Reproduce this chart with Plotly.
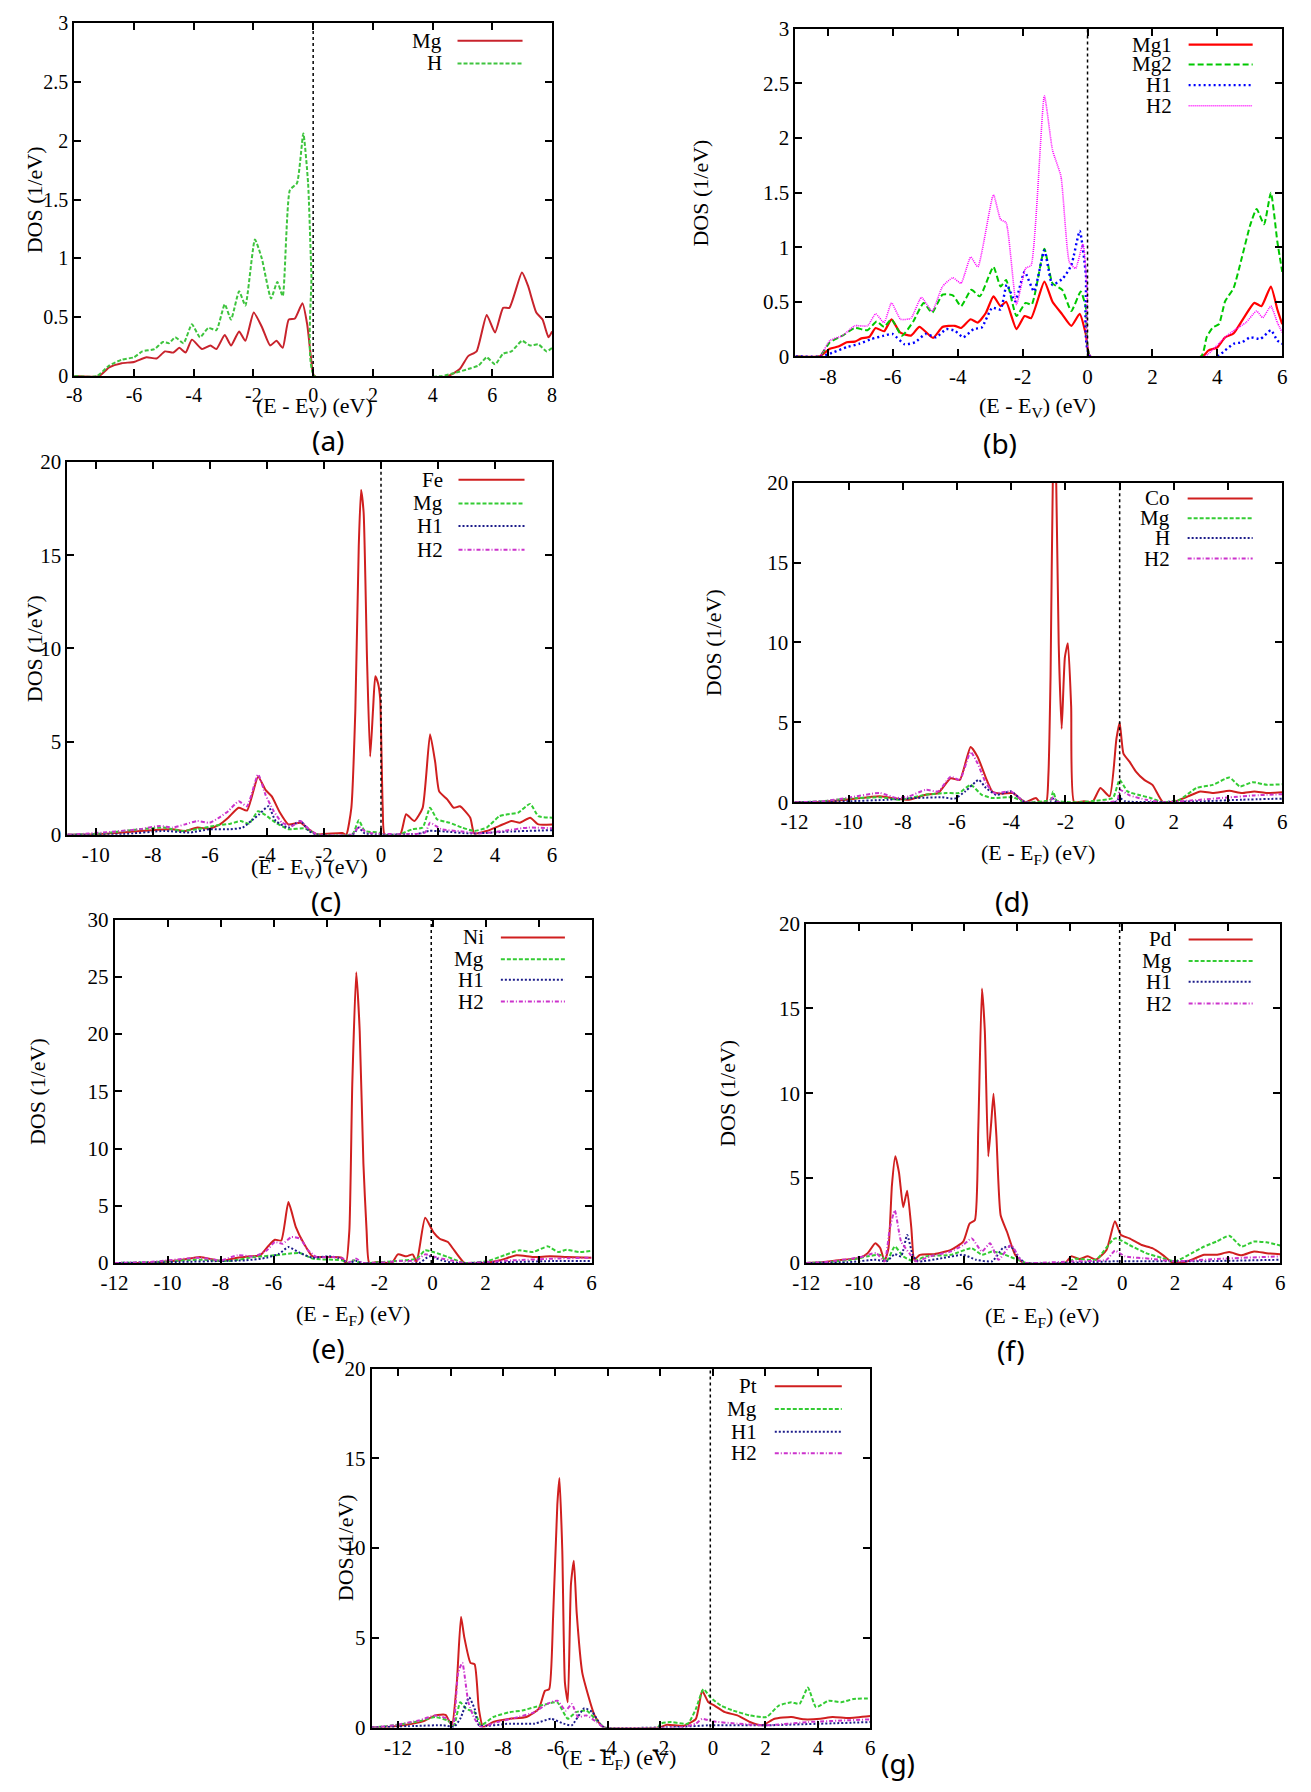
import plotly.graph_objects as go

W, H = 1311, 1792
OFF = 8  # the page body keeps its default 8px margin, so the figure is placed inside it
FW, FH = W - 2 * OFF, H - 2 * OFF

# ---------------- data (energy in eV, DOS in 1/eV) ----------------
# (a) MgH2
a_mg_x = [-8, -7.17, -6.83, -6.41, -6.0, -5.58, -5.24, -4.96, -4.68, -4.48, -4.27, -4.06, -3.72, -3.44, -3.24,
          -2.96, -2.75, -2.48, -2.27, -1.99, -1.72, -1.44, -1.23, -1.02, -0.82, -0.61, -0.36, -0.2, -0.06, 0.04,
          4.5, 4.91, 5.19, 5.47, 5.81, 6.09, 6.36, 6.57, 6.99, 7.19, 7.47, 7.68, 7.88, 8.0]
a_mg_y = [0, 0, 0.075, 0.11, 0.12, 0.16, 0.15, 0.21, 0.2, 0.24, 0.2, 0.31, 0.23, 0.26, 0.23,
          0.35, 0.26, 0.38, 0.30, 0.54, 0.42, 0.26, 0.30, 0.24, 0.48, 0.49, 0.62, 0.44, 0.13, 0,
          0, 0.06, 0.17, 0.21, 0.52, 0.37, 0.58, 0.58, 0.88, 0.77, 0.54, 0.48, 0.33, 0.38]
a_h_x = [-8, -7.24, -6.83, -6.41, -6.0, -5.72, -5.31, -5.03, -4.82, -4.62, -4.34, -4.06, -3.79, -3.51, -3.24,
         -2.96, -2.75, -2.48, -2.27, -1.95, -1.72, -1.41, -1.2, -1.02, -0.78, -0.54, -0.33, -0.17, -0.06, 0.05,
         4.29, 4.78, 5.19, 5.54, 5.81, 6.09, 6.36, 6.64, 6.99, 7.26, 7.54, 7.82, 8.0]
a_h_y = [0, 0, 0.09, 0.14, 0.16, 0.21, 0.23, 0.29, 0.28, 0.33, 0.28, 0.44, 0.33, 0.41, 0.39,
         0.61, 0.48, 0.72, 0.6, 1.16, 1.0, 0.66, 0.80, 0.68, 1.58, 1.64, 2.06, 1.64, 0.86, 0,
         0, 0.03, 0.06, 0.09, 0.16, 0.10, 0.19, 0.21, 0.30, 0.26, 0.27, 0.21, 0.24]

# (b) Mg1 / Mg2 / H1 / H2
b_mg1_x = [-9, -8.26, -7.94, -7.68, -7.42, -7.17, -6.97, -6.72, -6.53, -6.27, -6.04, -5.78, -5.44, -5.18, -4.76,
           -4.47, -4.09, -3.90, -3.6, -3.38, -3.13, -2.9, -2.68, -2.51, -2.19, -1.94, -1.74, -1.33, -1.08, -0.78,
           -0.5, -0.24, -0.05, 0.08, 3.54, 3.73, 3.99, 4.24, 4.5, 4.82, 5.14, 5.36, 5.65, 5.85, 6.0]
b_mg1_y = [0, 0, 0.07, 0.09, 0.13, 0.135, 0.165, 0.18, 0.26, 0.23, 0.34, 0.22, 0.19, 0.27, 0.17,
           0.27, 0.28, 0.26, 0.34, 0.31, 0.40, 0.55, 0.46, 0.50, 0.25, 0.37, 0.35, 0.685, 0.50, 0.385,
           0.28, 0.39, 0.20, 0, 0, 0.055, 0.08, 0.175, 0.21, 0.355, 0.49, 0.46, 0.64, 0.43, 0.295]
b_mg2_x = [-9, -8.26, -7.94, -7.55, -7.17, -6.78, -6.5, -6.27, -6.04, -5.72, -5.37, -5.05, -4.79, -4.47, -4.15,
           -3.9, -3.58, -3.32, -2.9, -2.68, -2.51, -2.19, -1.91, -1.72, -1.33, -1.08, -0.78, -0.5, -0.21, -0.05,
           0.09, 3.5, 3.67, 3.86, 4.05, 4.24, 4.5, 4.76, 5.01, 5.21, 5.44, 5.65, 5.85, 6.0]
b_mg2_y = [0, 0, 0.13, 0.19, 0.26, 0.24, 0.32, 0.27, 0.34, 0.19, 0.32, 0.49, 0.40, 0.565, 0.56,
           0.46, 0.61, 0.55, 0.82, 0.64, 0.70, 0.37, 0.49, 0.475, 0.985, 0.67, 0.61, 0.415, 0.595, 0.445,
           0, 0, 0.175, 0.265, 0.295, 0.505, 0.625, 0.91, 1.2, 1.35, 1.21, 1.5, 1.05, 0.775]
b_h1_x = [-9, -8.19, -7.81, -7.42, -7.04, -6.65, -6.27, -6.01, -5.63, -5.31, -4.99, -4.67, -4.35, -4.09, -3.83,
          -3.51, -3.26, -2.94, -2.68, -2.49, -2.23, -1.94, -1.65, -1.33, -1.08, -0.76, -0.5, -0.24, -0.05, 0.08,
          3.99, 4.24, 4.5, 4.76, 5.01, 5.33, 5.65, 5.85, 6.0]
b_h1_y = [0, 0, 0.04, 0.085, 0.115, 0.16, 0.19, 0.205, 0.11, 0.13, 0.205, 0.175, 0.25, 0.235, 0.175,
          0.25, 0.265, 0.445, 0.43, 0.655, 0.505, 0.775, 0.595, 0.97, 0.655, 0.715, 0.835, 1.15, 0.745, 0,
          0, 0.055, 0.115, 0.13, 0.175, 0.16, 0.24, 0.145, 0.115]
b_h2_x = [-9, -8.26, -7.94, -7.55, -7.17, -6.78, -6.53, -6.27, -6.04, -5.76, -5.44, -5.12, -4.79, -4.47, -4.15,
          -3.9, -3.6, -3.38, -2.9, -2.68, -2.51, -2.19, -1.91, -1.74, -1.33, -1.08, -0.82, -0.56, -0.37, -0.14,
          -0.01, 0.09, 3.6, 3.73, 3.99, 4.24, 4.5, 4.88, 5.21, 5.4, 5.65, 5.85, 6.0]
b_h2_y = [0, 0, 0.145, 0.19, 0.28, 0.28, 0.39, 0.31, 0.49, 0.34, 0.35, 0.54, 0.415, 0.64, 0.72,
          0.67, 0.91, 0.82, 1.48, 1.255, 1.225, 0.475, 0.805, 0.835, 2.385, 1.89, 1.65, 0.865, 0.805, 1.03,
          0.595, 0, 0, 0.025, 0.1, 0.175, 0.235, 0.31, 0.415, 0.355, 0.46, 0.31, 0.22]

# (c) Fe
c_fe_x = [-11, -9.93, -9.06, -8.04, -7.31, -6.88, -6.44, -6.01, -5.65, -5.36, -4.99, -4.7, -4.31, -4.05, -3.83,
          -3.54, -3.25, -2.82, -2.53, -2.24, -1.36, -1.22, -1.04, -0.9, -0.78, -0.7, -0.61, -0.49, -0.38, -0.28,
          -0.2, -0.1, -0.03, 0.06, 0.13, 0.67, 0.88, 1.17, 1.46, 1.72, 1.9, 2.04, 2.33, 2.55, 2.77,
          3.13, 3.27, 3.71, 4.15, 4.58, 4.87, 5.23, 5.52, 6.0]
c_fe_y = [0, 0.03, 0.12, 0.25, 0.3, 0.2, 0.39, 0.33, 0.56, 0.92, 1.45, 1.3, 3.12, 2.41, 2.06,
          1.18, 0.56, 0.65, 0.3, 0.03, 0.1, 0, 1.45, 6.7, 15.5, 18.5, 17.3, 9.4, 4.2, 6.7,
          8.5, 8.1, 7.3, 1.45, 0, 0, 1.1, 0.74, 1.45, 5.4, 3.9, 2.33, 1.89, 1.45, 1.53,
          0.92, 0.07, 0.21, 0.48, 0.74, 0.65, 0.92, 0.56, 0.56]
c_mg_x = [-11, -9.78, -8.48, -7.6, -7.02, -6.44, -5.86, -5.28, -4.92, -4.63, -4.31, -4.05, -3.69, -3.25, -2.67,
          -2.38, -2.16, -1.0, -0.78, -0.57, -0.06, 0.09, 0.67, 1.1, 1.46, 1.72, 1.97, 2.4, 2.84, 3.27,
          3.71, 4.15, 4.44, 4.8, 5.23, 5.52, 6.0]
c_mg_y = [0, 0.07, 0.3, 0.39, 0.21, 0.3, 0.48, 0.6, 0.74, 0.6, 1.27, 1.06, 0.65, 0.3, 0.35,
          0.12, 0, 0.04, 0.78, 0.21, 0.12, 0, 0.04, 0.3, 0.39, 1.45, 0.83, 0.65, 0.39, 0.21,
          0.39, 1.0, 1.1, 1.18, 1.66, 1.0, 0.92]
c_h1_x = [-11, -9.06, -7.6, -6.73, -6.01, -5.28, -4.85, -4.56, -4.27, -3.95, -3.69, -3.25, -2.82, -2.53, -2.24,
          -1.0, -0.78, -0.57, 1.3, 1.68, 2.26, 3.13, 4.58, 6.0]
c_h1_y = [0, 0.03, 0.21, 0.12, 0.3, 0.3, 0.39, 0.74, 1.1, 1.53, 0.74, 0.39, 0.74, 0.21, 0,
          0, 0.39, 0.07, 0.05, 0.21, 0.18, 0.07, 0.18, 0.25]
c_h2_x = [-11, -9.78, -8.48, -7.75, -7.31, -6.88, -6.44, -6.01, -5.65, -5.36, -4.99, -4.7, -4.31, -4.05, -3.76,
          -3.47, -3.11, -2.82, -2.53, -2.24, -1.0, -0.78, -0.49, 1.54, 1.72, 2.11, 2.84, 3.42, 4.29, 5.16, 6.0]
c_h2_y = [0, 0.12, 0.3, 0.48, 0.39, 0.56, 0.74, 0.65, 0.95, 1.27, 1.8, 1.53, 3.24, 2.15, 1.27,
          0.65, 0.48, 0.74, 0.3, 0.03, 0.03, 0.42, 0.12, 0.12, 0.65, 0.3, 0.18, 0.07, 0.21, 0.39, 0.35]

# (d) Co
d_co_x = [-12, -11.0, -10.08, -8.85, -8.24, -7.78, -7.16, -6.7, -6.24, -5.9, -5.5, -5.24, -4.93, -4.7, -4.32,
          -3.94, -3.63, -3.47, -3.09, -2.94, -2.71, -2.63, -2.55, -2.46, -2.4, -2.35, -2.25, -2.14, -2.02, -1.91,
          -1.79, -1.68, -1.32, -1.01, -0.71, -0.37, -0.12, 0.0, 0.14, 0.37, 0.6, 0.91, 1.21, 1.6, 2.06,
          2.52, 2.98, 3.44, 4.05, 4.51, 4.97, 5.43, 6.0]
d_co_y = [0, 0.02, 0.16, 0.37, 0.23, 0.16, 0.47, 0.58, 1.5, 1.4, 3.46, 2.84, 1.5, 0.68, 0.54,
          0.58, 0.16, 0, 0.27, 0, 0, 1.7, 7.9, 21.0, 23.0, 21.0, 9.95, 4.6, 9.1, 9.95,
          6.0, 0, 0.06, 0, 0.89, 0.37, 3.97, 5.0, 3.05, 2.53, 1.92, 1.4, 1.09, 0, 0.06,
          0.37, 0.68, 0.58, 0.72, 0.58, 0.68, 0.58, 0.62]
d_mg_x = [-12, -11.0, -10.08, -8.85, -8.09, -7.16, -6.39, -5.93, -5.5, -5.09, -4.7, -3.94, -3.47, -2.55, -2.46,
          -2.32, -1.63, -0.86, -0.25, 0.0, 0.29, 0.68, 1.14, 1.6, 2.22, 2.83, 3.44, 4.05, 4.44, 4.9, 5.43, 6.0]
d_mg_y = [0, 0.06, 0.23, 0.31, 0.16, 0.47, 0.58, 0.58, 1.09, 0.47, 0.27, 0.31, 0, 0.16, 0.68,
          0.1, 0, 0.1, 0.27, 1.4, 0.68, 0.47, 0.27, 0, 0.16, 0.89, 1.09, 1.55, 0.99, 1.26, 1.09, 1.13]
d_h_x = [-12, -10.08, -8.54, -7.47, -6.55, -6.09, -5.7, -5.2, -4.93, -4.55, -4.01, -3.63, -3.47, -2.55, -2.46,
         -2.32, -0.2, 0.0, 0.21, 2.98, 4.51, 6.0]
d_h_y = [0, 0.06, 0.16, 0.27, 0.31, 0.23, 0.68, 1.4, 0.89, 0.47, 0.68, 0.16, 0, 0, 0.23,
         0, 0, 0.27, 0.06, 0.06, 0.16, 0.23]
d_h2_x = [-12, -11.0, -10.08, -8.85, -8.24, -7.78, -7.16, -6.7, -6.24, -5.9, -5.5, -5.24, -4.93, -4.62, -4.01,
          -3.63, -3.47, -2.6, -2.46, -2.25, -0.09, 0.0, 0.37, 0.98, 1.6, 2.98, 4.05, 4.97, 6.0]
d_h2_y = [0, 0.06, 0.27, 0.58, 0.27, 0.37, 0.78, 0.68, 1.6, 1.4, 3.15, 2.43, 1.19, 0.58, 0.68,
          0.16, 0, 0, 0.31, 0, 0.1, 0.78, 0.43, 0.16, 0, 0.16, 0.31, 0.43, 0.51]

# (e) Ni
e_ni_x = [-12, -10.66, -9.56, -8.78, -7.99, -7.36, -6.89, -6.5, -6.18, -5.95, -5.71, -5.44, -5.16, -4.85, -4.53,
          -3.9, -3.43, -3.27, -3.14, -3.03, -2.88, -2.75, -2.61, -2.49, -2.39, -2.09, -1.54, -1.31, -0.99, -0.75,
          -0.6, -0.28, 0.03, 0.27, 0.58, 0.82, 1.21, 1.92, 2.55, 3.17, 3.8, 4.43, 5.06, 6.0]
e_ni_y = [0, 0.03, 0.23, 0.52, 0.17, 0.46, 0.58, 0.67, 1.54, 2.03, 1.97, 5.32, 3.14, 1.68, 0.58,
          0.52, 0.46, 0, 2.85, 15.6, 25.4, 20.3, 8.7, 2.85, 0, 0.09, 0, 0.75, 0.58, 0.75,
          0.09, 3.95, 2.7, 2.12, 1.83, 1.1, 0, 0, 0.23, 0.67, 0.52, 0.58, 0.52, 0.46]
e_mg_x = [-12, -10.66, -8.78, -7.68, -6.73, -5.95, -5.44, -5.0, -4.53, -3.43, -3.2, -2.96, -2.72, -1.38, -0.6,
          -0.28, 0.03, 0.58, 1.21, 2.07, 2.71, 3.26, 3.8, 4.35, 4.74, 5.06, 5.53, 6.0]
e_mg_y = [0, 0.06, 0.29, 0.17, 0.52, 0.67, 0.81, 0.87, 0.38, 0.23, 0, 0.23, 0, 0.17, 0.38,
          1.1, 0.96, 0.52, 0, 0.17, 0.67, 1.1, 0.96, 1.45, 0.96, 1.16, 0.96, 1.05]
e_h1_x = [-12, -9.56, -7.99, -7.05, -6.26, -5.79, -5.44, -5.0, -4.53, -3.9, -3.43, -3.2, -2.88, -2.64, -0.5,
          -0.13, 0.35, 0.82, 3.02, 4.59, 6.0]
e_h1_y = [0, 0.09, 0.17, 0.23, 0.46, 0.81, 1.39, 0.87, 0.46, 0.58, 0.38, 0, 0.17, 0, 0,
          0.58, 0.23, 0, 0.09, 0.17, 0.17]
e_h2_x = [-12, -10.66, -8.78, -7.99, -7.36, -6.73, -6.26, -5.95, -5.66, -5.32, -5.0, -4.69, -4.38, -3.75, -3.36,
          -3.2, -2.88, -2.64, -1.23, -0.6, -0.28, 0.19, 0.82, 1.21, 3.02, 4.59, 6.0]
e_h2_y = [0, 0.09, 0.46, 0.23, 0.67, 0.58, 1.1, 1.83, 1.68, 2.27, 2.12, 1.1, 0.52, 0.52, 0.38,
          0, 0.38, 0, 0.17, 0.23, 0.75, 0.46, 0.17, 0, 0.23, 0.38, 0.46]

# (f) Pd
f_pd_x = [-12, -11.4, -10.61, -9.98, -9.67, -9.38, -9.19, -9.03, -8.88, -8.75, -8.62, -8.48, -8.32, -8.17, -8.01,
          -7.9, -7.69, -7.14, -6.51, -6.04, -5.8, -5.6, -5.47, -5.33, -5.22, -5.09, -4.98, -4.89, -4.78, -4.62,
          -4.38, -4.07, -3.75, -2.17, -1.94, -1.63, -1.31, -1.0, -0.6, -0.28, -0.05, 0.27, 0.74, 1.14, 1.53,
          1.93, 2.48, 3.11, 3.58, 4.06, 4.53, 5.0, 5.48, 6.0]
f_pd_y = [0, 0.04, 0.19, 0.29, 0.58, 1.16, 0.87, 0.1, 0.87, 4.55, 6.29, 5.32, 3.29, 4.26, 2.03,
          0.19, 0.48, 0.52, 0.77, 1.26, 2.32, 2.52, 7.84, 16.17, 13.65, 6.29, 8.23, 9.97, 7.45, 2.81,
          1.84, 0.48, 0, 0, 0.39, 0.23, 0.39, 0.19, 0.77, 2.46, 1.65, 1.45, 1.06, 0.87, 0.48,
          0, 0.1, 0.48, 0.48, 0.64, 0.45, 0.68, 0.58, 0.52]
f_mg_x = [-12, -11.24, -10.3, -9.67, -9.19, -8.95, -8.64, -8.32, -7.93, -7.46, -6.51, -5.72, -5.33, -4.94, -4.46,
          -3.83, -3.67, -2.17, -1.78, -1.0, -0.28, 0.27, 0.9, 1.53, 2.01, 2.64, 3.11, 3.58, 4.06, 4.53,
          5.0, 5.48, 6.0]
f_mg_y = [0, 0.04, 0.19, 0.39, 0.48, 0.1, 0.97, 0.39, 0.1, 0.39, 0.48, 0.87, 0.48, 0.68, 0.48,
          0.1, 0, 0, 0.25, 0.19, 1.45, 1.06, 0.58, 0.29, 0.1, 0.58, 0.97, 1.26, 1.61, 0.97,
          1.26, 1.22, 1.03]
f_h1_x = [-12, -10.45, -9.35, -8.95, -8.64, -8.4, -8.17, -7.96, -7.77, -6.82, -6.04, -5.55, -4.94, -4.54, -4.23,
          -3.91, -3.67, -0.21, 2.95, 6.0]
f_h1_y = [0, 0.04, 0.19, 0.1, 0.52, 0.39, 1.65, 0.48, 0.1, 0.29, 0.48, 0.19, 0.1, 0.87, 0.97,
          0.29, 0, 0.1, 0.1, 0.19]
f_h2_x = [-12, -11.24, -9.98, -9.35, -9.03, -8.83, -8.64, -8.4, -8.09, -7.85, -7.3, -6.51, -6.04, -5.72, -5.33,
          -5.02, -4.7, -4.23, -3.83, -3.67, -1.78, -0.6, -0.28, 0.11, 1.06, 2.01, 3.74, 6.0]
f_h2_y = [0, 0.06, 0.33, 0.58, 0.1, 2.03, 3.1, 1.26, 0.58, 0.1, 0.39, 0.68, 1.06, 1.45, 0.68,
          1.16, 0.19, 1.06, 0.1, 0, 0.1, 0.19, 0.72, 0.39, 0.25, 0.1, 0.25, 0.39]

# (g) Pt
g_pt_x = [-13, -12.39, -11.68, -11.05, -10.58, -10.19, -9.95, -9.76, -9.6, -9.48, -9.24, -9.08, -8.92, -8.76, -8.37,
          -7.74, -7.11, -6.64, -6.4, -6.24, -6.09, -5.93, -5.85, -5.74, -5.64, -5.53, -5.41, -5.3, -5.19, -4.98,
          -4.82, -4.51, -4.27, -4.12, -2.06, -1.75, -1.12, -0.65, -0.41, -0.17, 0.06, 0.46, 0.93, 1.41, 1.88,
          2.35, 2.99, 3.46, 4.09, 4.56, 5.18, 6.0]
g_pt_y = [0, 0.04, 0.16, 0.35, 0.68, 0.71, 0.13, 2.51, 6.17, 5.07, 3.61, 3.52, 1.04, 0.04, 0.31,
          0.49, 0.59, 1.04, 2.05, 2.14, 6.17, 12.4, 13.9, 9.84, 2.51, 1.41, 8.0, 9.29, 6.36, 3.06,
          2.14, 0.68, 0.13, 0, 0, 0.16, 0.09, 0.49, 2.05, 1.41, 1.23, 0.86, 0.68, 0.31, 0.13,
          0.49, 0.59, 0.46, 0.49, 0.59, 0.53, 0.64]
g_mg_x = [-13, -12.16, -11.21, -10.58, -10.11, -9.87, -9.63, -9.4, -9.08, -8.84, -8.37, -7.74, -7.27, -6.8, -6.32,
          -5.93, -5.53, -5.22, -4.82, -4.43, -4.12, -2.1, -2.0, -1.59, -0.96, -0.65, -0.36, -0.09, 0.3, 0.77,
          1.41, 2.04, 2.51, 2.99, 3.3, 3.62, 3.93, 4.41, 4.88, 5.36, 6.0]
g_mg_y = [0, 0.13, 0.35, 0.59, 0.4, 0.13, 1.41, 1.04, 0.86, 0.13, 0.59, 0.86, 0.95, 1.14, 1.32,
          1.41, 0.49, 0.86, 0.95, 0.4, 0, 0, 0.22, 0.31, 0.22, 1.04, 2.14, 1.68, 1.23, 0.95,
          0.68, 0.59, 1.23, 1.41, 1.32, 2.23, 1.14, 1.5, 1.41, 1.59, 1.63]
g_h1_x = [-13, -11.37, -10.27, -9.87, -9.63, -9.29, -9.08, -8.92, -7.74, -6.8, -6.17, -5.69, -5.38, -4.9, -4.59,
          -4.27, -4.12, -1.12, -0.17, 2.04, 6.0]
g_h1_y = [0, 0.09, 0.13, 0.04, 0.49, 1.68, 1.04, 0.13, 0.22, 0.22, 0.49, 0.22, 0.13, 1.08, 0.86,
          0.13, 0, 0.04, 0.13, 0.13, 0.31]
g_h2_x = [-13, -12.16, -11.21, -10.58, -10.11, -9.9, -9.71, -9.55, -9.32, -9.08, -8.84, -8.21, -7.42, -6.8, -6.32,
          -5.93, -5.61, -5.38, -5.14, -4.82, -4.43, -4.12, -1.12, -0.65, -0.41, -0.02, 0.93, 2.04, 3.62, 6.0]
g_h2_y = [0, 0.13, 0.4, 0.68, 0.49, 0.13, 3.06, 3.61, 1.41, 0.49, 0.04, 0.31, 0.59, 0.86, 1.32,
          1.5, 0.95, 1.32, 0.59, 0.68, 0.31, 0, 0.04, 0.22, 0.49, 0.35, 0.22, 0.13, 0.31, 0.46]

# position of the dotted reference line in each panel
fermi_x = [0, 0, 0, 0, -0.05, -0.1, -0.1]
panel_tags = ['(a)', '(b)', '(c)', '(d)', '(e)', '(f)', '(g)']

# ---------------- styles ----------------
SERIF = 'Liberation Serif'
RED_A = dict(color='#c8232c', dash='solid', width=2)
GRN_A = dict(color='#3ec43e', dash='4px,2px', width=2)
B_STY = [dict(color='#ff0000', dash='solid', width=2.2),
         dict(color='#00c800', dash='6px,3px', width=2),
         dict(color='#0000ff', dash='2px,3px', width=2.4),
         dict(color='#ff00ff', dash='1px,1px', width=1.6)]
M_STY = [dict(color='#d01f1f', dash='solid', width=2),
         dict(color='#33cc33', dash='4px,2px', width=2),
         dict(color='#1c1c8a', dash='2px,2px', width=2),
         dict(color='#cc33cc', dash='4px,2px,1px,2px', width=2)]

EV = '(E - E<sub>V</sub>) (eV)'
EF = '(E - E<sub>F</sub>) (eV)'

# layout per panel, in page pixels: box = (left, right, top, bottom)
panels = [
    dict(box=(61, 546, 11, 369), xr=[-8, 8], x0=-8, yr=[0, 3], dy=0.5, xt=EV, xt_pos=(305, 400), yt_x=21,
         tag_pos=(319, 434), leg=(436, 450, 516, [29, 52]), tick_size=20,
         series=[('Mg', a_mg_x, a_mg_y, RED_A), ('H', a_h_x, a_h_y, GRN_A)]),
    dict(box=(793, 1287, 17, 349), xr=[-9, 6], x0=-8, yr=[0, 3], dy=0.5, xt=EV, xt_pos=(1039, 400), yt_x=697,
         tag_pos=(1001, 437), leg=(1177, 1192, 1257, [33, 53, 74, 95]), tick_size=21,
         series=[('Mg1', b_mg1_x, b_mg1_y, B_STY[0]), ('Mg2', b_mg2_x, b_mg2_y, B_STY[1]),
                 ('H1', b_h1_x, b_h1_y, B_STY[2]), ('H2', b_h2_x, b_h2_y, B_STY[3])]),
    dict(box=(54, 546, 456, 834), xr=[-11, 6], x0=-10, yr=[0, 20], dy=5, xt=EV, xt_pos=(300, 868), yt_x=21,
         tag_pos=(317, 901), leg=(437, 451, 518, [474, 498, 521, 545]), tick_size=21,
         series=[('Fe', c_fe_x, c_fe_y, M_STY[0]), ('Mg', c_mg_x, c_mg_y, M_STY[1]),
                 ('H1', c_h1_x, c_h1_y, M_STY[2]), ('H2', c_h2_x, c_h2_y, M_STY[3])]),
    dict(box=(792, 1287, 477, 801), xr=[-12, 6], x0=-12, yr=[0, 20], dy=5, xt=EF, xt_pos=(1039, 853), yt_x=710,
         tag_pos=(1013, 901), leg=(1175, 1191, 1257, [493, 513, 533, 554]), tick_size=21,
         series=[('Co', d_co_x, d_co_y, M_STY[0]), ('Mg', d_mg_x, d_mg_y, M_STY[1]),
                 ('H', d_h_x, d_h_y, M_STY[2]), ('H2', d_h2_x, d_h2_y, M_STY[3])]),
    dict(box=(102, 586, 920, 1268), xr=[-12, 6], x0=-12, yr=[0, 30], dy=5, xt=EF, xt_pos=(344, 1321), yt_x=24,
         tag_pos=(319, 1354), leg=(479, 494, 559, [938, 960, 981, 1003]), tick_size=21,
         series=[('Ni', e_ni_x, e_ni_y, M_STY[0]), ('Mg', e_mg_x, e_mg_y, M_STY[1]),
                 ('H1', e_h1_x, e_h1_y, M_STY[2]), ('H2', e_h2_x, e_h2_y, M_STY[3])]),
    dict(box=(804, 1285, 924, 1268), xr=[-12, 6], x0=-12, yr=[0, 20], dy=5, xt=EF, xt_pos=(1043, 1323), yt_x=724,
         tag_pos=(1012, 1356), leg=(1177, 1192, 1257, [940, 962, 983, 1005]), tick_size=21,
         series=[('Pd', f_pd_x, f_pd_y, M_STY[0]), ('Mg', f_mg_x, f_mg_y, M_STY[1]),
                 ('H1', f_h1_x, f_h1_y, M_STY[2]), ('H2', f_h2_x, f_h2_y, M_STY[3])]),
    dict(box=(363, 869, 1375, 1739), xr=[-13, 6], x0=-12, yr=[0, 20], dy=5, xt=EF, xt_pos=(614, 1771), yt_x=336,
         tag_pos=(897, 1775), leg=(756, 772, 840, [1393, 1416, 1439, 1461]), tick_size=21,
         series=[('Pt', g_pt_x, g_pt_y, M_STY[0]), ('Mg', g_mg_x, g_mg_y, M_STY[1]),
                 ('H1', g_h1_x, g_h1_y, M_STY[2]), ('H2', g_h2_x, g_h2_y, M_STY[3])]),
]


def fx(p):
    return (p - OFF) / FW


def fy(p):
    return 1 - (p - OFF) / FH


def tick_list(start, stop, step):
    # tick values from start to stop, labelled with a plain hyphen like gnuplot does
    vals = []
    v = start
    while v <= stop + 1e-9:
        vals.append(round(v, 6))
        v += step
    return vals, [f'{x:g}' for x in vals]


fig = go.Figure()
layout = {}
shapes = []
annotations = []

for i, p in enumerate(panels):
    n = '' if i == 0 else str(i + 1)
    l, r, t, b = p['box']
    axis_common = dict(ticks='inside', ticklen=7, tickwidth=1.5, tickcolor='black', mirror='ticks',
                       showline=True, linecolor='black', linewidth=2, showgrid=False, zeroline=False,
                       tickfont=dict(family=SERIF, size=p['tick_size'], color='black'))
    xv, xt = tick_list(p['x0'], p['xr'][1], 2)
    yv, yt = tick_list(0, p['yr'][1], p['dy'])
    layout['xaxis' + n] = dict(domain=[fx(l), fx(r)], range=p['xr'], anchor='y' + n,
                               tickmode='array', tickvals=xv, ticktext=xt, **axis_common)
    layout['yaxis' + n] = dict(domain=[fy(b), fy(t)], range=p['yr'], anchor='x' + n,
                               tickmode='array', tickvals=yv, ticktext=yt, **axis_common)

    for name, xs, ys, sty in p['series']:
        if len(xs) != len(ys):
            print('length mismatch', panel_tags[i], name, len(xs), len(ys))
        fig.add_trace(go.Scatter(x=xs, y=ys, mode='lines', name=name, showlegend=False,
                                 xaxis='x' + n, yaxis='y' + n,
                                 line=dict(color=sty['color'], dash=sty['dash'], width=sty['width'],
                                           shape='spline', smoothing=0.5)))

    # dotted line at the band edge / Fermi level
    shapes.append(dict(type='line', xref='x' + n, yref='y' + n + ' domain', x0=fermi_x[i], x1=fermi_x[i],
                       y0=0, y1=1, line=dict(color='black', width=1.5, dash='dot')))

    # legend drawn gnuplot style: label on the left, sample line on the right
    tx, lx0, lx1, rows = p['leg']
    for (name, xs, ys, sty), ry in zip(p['series'], rows):
        annotations.append(dict(text=name, x=fx(tx), y=fy(ry), xref='paper', yref='paper',
                                xanchor='right', yanchor='middle', showarrow=False,
                                font=dict(family=SERIF, size=21, color='black')))
        shapes.append(dict(type='line', xref='paper', yref='paper', x0=fx(lx0), x1=fx(lx1),
                           y0=fy(ry), y1=fy(ry),
                           line=dict(color=sty['color'], dash=sty['dash'], width=sty['width'])))

    # axis titles and panel tag
    annotations.append(dict(text=p['xt'], x=fx(p['xt_pos'][0]), y=fy(p['xt_pos'][1]), xref='paper', yref='paper',
                            xanchor='center', yanchor='middle', showarrow=False,
                            font=dict(family=SERIF, size=22, color='black')))
    annotations.append(dict(text='DOS (1/eV)', x=fx(p['yt_x']), y=fy((t + b) / 2), xref='paper', yref='paper',
                            xanchor='center', yanchor='middle', textangle=-90, showarrow=False,
                            font=dict(family=SERIF, size=22, color='black')))
    annotations.append(dict(text=panel_tags[i], x=fx(p['tag_pos'][0]), y=fy(p['tag_pos'][1]),
                            xref='paper', yref='paper', xanchor='center', yanchor='middle', showarrow=False,
                            font=dict(family='Noto Sans', size=28, color='black')))

fig.update_layout(width=FW, height=FH, margin=dict(l=0, r=0, t=0, b=0),
                  paper_bgcolor='white', plot_bgcolor='white', showlegend=False,
                  shapes=shapes, annotations=annotations, **layout)

fig.write_html("out.html")
